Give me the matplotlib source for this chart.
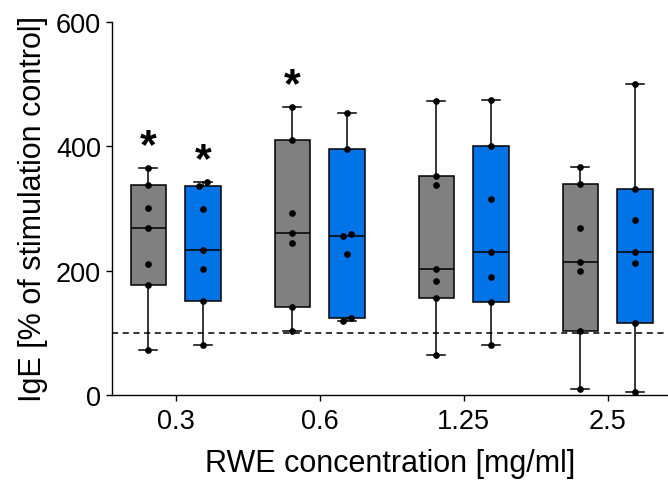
import numpy as np
import matplotlib
matplotlib.use("Agg")
import matplotlib.pyplot as plt

# ---- data ----
concentrations = ["0.3", "0.6", "1.25", "2.5"]
series_names = ["control", "RWE"]
gray_values = [
    [73, 177, 211, 268, 301, 337, 365],
    [103, 142, 245, 260, 293, 411, 464],
    [64, 156, 183, 203, 337, 352, 473],
    [10, 102, 200, 214, 268, 340, 367],
]
blue_values = [
    [81, 151, 202, 233, 299, 336, 343],
    [119, 123, 227, 255, 259, 396, 454],
    [80, 150, 190, 230, 315, 400, 474],
    [5, 115, 213, 230, 281, 332, 500],
]
gray_signif = [True, True, False, False]
blue_signif = [True, False, False, False]
reference_level = 100
y_ticks = [0, 200, 400, 600]

# ---- style ----
plt.rcParams['font.family'] = ['Liberation Sans', 'DejaVu Sans']
GRAY = '#808080'
BLUE = '#0073E6'
BOX_W = 0.245
OFFSET = 0.19
CAP_W = 0.125

fig = plt.figure(figsize=(6.68, 4.81), dpi=100)
ax = fig.add_axes([0.168, 0.177, 0.832, 0.775])


def stats_for(vals, label):
    v = np.sort(np.asarray(vals, dtype=float))
    q1, med, q3 = np.percentile(v, [25, 50, 75], method='weibull')
    return dict(label=label, med=med, q1=q1, q3=q3,
                whislo=v.min(), whishi=v.max(), fliers=[])


def dodge(vals, thr=8.0, dx=0.05):
    v = np.asarray(vals, dtype=float)
    order = np.argsort(v)
    offs = np.zeros(len(v))
    clusters = [[order[0]]]
    for i in order[1:]:
        if v[i] - v[clusters[-1][-1]] < thr:
            clusters[-1].append(i)
        else:
            clusters.append([i])
    for c in clusters:
        k = len(c)
        for j, idx in enumerate(c):
            offs[idx] = (j - (k - 1) / 2) * dx
    return offs


ax.axhline(reference_level, color='black', lw=1.1, ls=(0, (4, 3)), zorder=1)

base = np.arange(1, len(concentrations) + 1)
for series, color, sign, shift in [(gray_values, GRAY, gray_signif, -OFFSET),
                                    (blue_values, BLUE, blue_signif, OFFSET)]:
    pos = base + shift
    st = [stats_for(v, c) for v, c in zip(series, concentrations)]
    ax.bxp(st, positions=pos, widths=BOX_W, patch_artist=True,
           showfliers=False, manage_ticks=False,
           boxprops=dict(facecolor=color, edgecolor='black', lw=1.1),
           medianprops=dict(color='black', lw=1.1),
           whiskerprops=dict(color='black', lw=1.1),
           capprops=dict(color='black', lw=1.1),
           capwidths=CAP_W, zorder=2)
    for p, vals, s in zip(pos, series, sign):
        offs = dodge(vals)
        ax.plot(p + offs, vals, 'o', color='black', ms=3.8, zorder=3)
        if s:
            ax.text(p, max(vals) + 17, '*', ha='center', va='baseline',
                    fontsize=31, fontweight='bold', zorder=4)

ax.set_xlim(0.56, 4.42)
ax.set_ylim(0, 600)
ax.set_xticks(base)
ax.set_xticklabels(concentrations)
ax.set_yticks(y_ticks)
ax.spines['top'].set_visible(False)
ax.spines['right'].set_visible(False)
for s in ['left', 'bottom']:
    ax.spines[s].set_linewidth(1.0)
ax.tick_params(axis='both', direction='out', length=4.5, width=1.0,
               labelsize=19.5, colors='black')
ax.tick_params(axis='y', pad=3.5)
ax.tick_params(axis='x', pad=5)
ax.set_ylabel('IgE [% of stimulation control]', fontsize=22, labelpad=6)
ax.set_xlabel('RWE concentration [mg/ml]', fontsize=22, labelpad=10)

fig.savefig('out.png', dpi=100)
